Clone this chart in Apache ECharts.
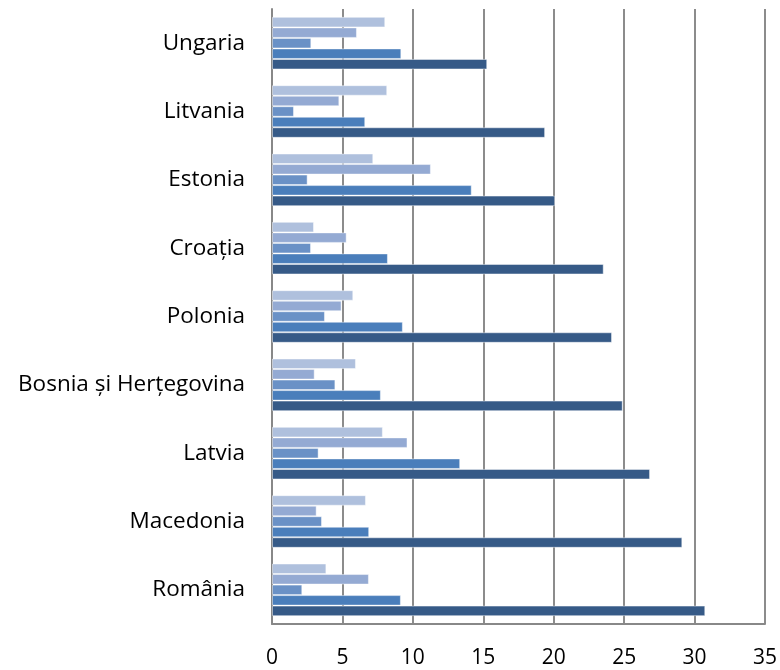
<!DOCTYPE html>
<html>
<head>
<meta charset="utf-8">
<script src="https://cdn.jsdelivr.net/npm/echarts@6/dist/echarts.min.js"></script>
<style>
html,body{margin:0;padding:0;background:#fff;}
#chart{width:780px;height:670px;}
</style>
</head>
<body>
<div id="chart"></div>
<script>
// Categories (bottom to top)
const categories = ['România', 'Macedonia', 'Latvia', 'Bosnia și Herțegovina', 'Polonia', 'Croația', 'Estonia', 'Litvania', 'Ungaria'];
// Series ordered from lightest (top bar in each group) to darkest (bottom bar)
const s1 = [3.86, 6.67, 7.87, 5.96, 5.77, 2.98, 7.19, 8.18, 8.04];
const s2 = [6.88, 3.17, 9.62, 3.03, 4.94, 5.30, 11.28, 4.78, 6.03];
const s3 = [2.15, 3.55, 3.31, 4.50, 3.76, 2.77, 2.53, 1.56, 2.79];
const s4 = [9.15, 6.90, 13.36, 7.73, 9.29, 8.23, 14.18, 6.62, 9.18];
const s5 = [30.76, 29.13, 26.84, 24.90, 24.14, 23.55, 20.10, 19.39, 15.28];
const xTicks = [0, 5, 10, 15, 20, 25, 30, 35];

const colors = ['#AFC0DD', '#94AAD3', '#6A91C6', '#4A7EBB', '#365A87'];
const seriesData = [s1, s2, s3, s4, s5];

const chart = echarts.init(document.getElementById('chart'));
chart.setOption({
  animation: false,
  backgroundColor: '#ffffff',
  grid: { left: 272, right: 14, top: 9, bottom: 46, containLabel: false },
  xAxis: {
    type: 'value',
    min: xTicks[0],
    max: xTicks[xTicks.length - 1],
    interval: 5,
    axisLine: { show: true, lineStyle: { color: '#888888', width: 2 } },
    axisTick: { show: false },
    splitLine: { show: true, lineStyle: { color: '#8c8c8c', width: 2 } },
    axisLabel: { color: '#000', fontSize: 21, fontFamily: 'Open Sans', margin: 24 }
  },
  yAxis: {
    type: 'category',
    data: categories,
    axisLine: { show: true, lineStyle: { color: '#888888', width: 2 } },
    axisTick: { show: false },
    axisLabel: { color: '#000', fontSize: 22.5, fontFamily: 'Open Sans', margin: 27 }
  },
  series: seriesData.map((d, i) => ({
    type: 'bar',
    data: d,
    barGap: '0%',
    barCategoryGap: '23%',
    itemStyle: { color: colors[i], borderColor: 'rgba(255,255,255,0.45)', borderWidth: 1 }
  }))
});
</script>
</body>
</html>
